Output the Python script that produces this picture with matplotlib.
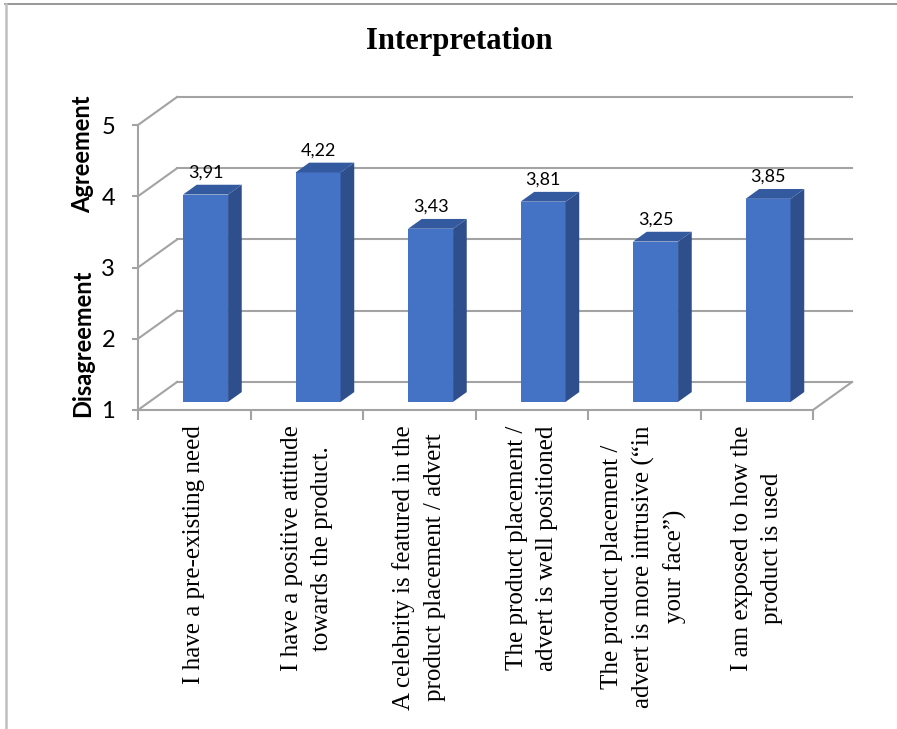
import matplotlib
matplotlib.use("Agg")
import matplotlib.pyplot as plt
from matplotlib.patches import Polygon
from matplotlib.lines import Line2D
import numpy as np

title = "Interpretation"
categories = [
    "I have a pre-existing need",
    "I have a positive attitude\ntowards the product.",
    "A celebrity is featured in the\nproduct placement / advert",
    "The product placement /\nadvert is well positioned",
    "The product placement /\nadvert is more intrusive (\u201cin\nyour face\u201d)",
    "I am exposed to how the\nproduct is used",
]
values = [3.91, 4.22, 3.43, 3.81, 3.25, 3.85]
value_labels = ["3,91", "4,22", "3,43", "3,81", "3,25", "3,85"]
y_ticks = [1, 2, 3, 4, 5]
label_agree = "Agreement"
label_disagree = "Disagreement"

# style / geometry
W, H = 897, 729
FRONT = "#4472C4"
SIDE = "#2E4E8C"
TOP = "#33599F"
GRID = "#A3A3A3"
DX, DY = 0.347, 0.393   # depth offset of back wall in data units
Z0, Z1 = 0.29, 0.64     # bar depth range
BW = 0.4

fig = plt.figure(figsize=(W / 100, H / 100), dpi=100)
fig.patch.set_facecolor("white")
ax = fig.add_axes([138 / W, (H - 410) / H, 675 / W, 285 / H])
ax.set_xlim(-0.5, len(values) - 0.5)
ax.set_ylim(y_ticks[0], y_ticks[-1])
ax.patch.set_visible(False)
for s in ["top", "right"]:
    ax.spines[s].set_visible(False)
for s in ["left", "bottom"]:
    ax.spines[s].set_color(GRID)
    ax.spines[s].set_linewidth(1.5)

xmin, xmax = -0.5, len(values) - 0.5
# walls / gridlines
for y in y_ticks:
    ax.add_line(Line2D([xmin, xmin + DX], [y, y + DY], color=GRID, lw=1.5,
                       clip_on=False, zorder=1))
    ax.add_line(Line2D([xmin + DX, xmax + DX], [y + DY, y + DY], color=GRID,
                       lw=1.5, clip_on=False, zorder=1))
ax.add_line(Line2D([xmax, xmax + DX], [y_ticks[0], y_ticks[0] + DY], color=GRID,
                   lw=1.5, clip_on=False, zorder=1))

# bars
x = np.arange(len(values))
vals = np.array(values)
base = y_ticks[0]
ax.bar(x + Z0 * DX, vals - base, bottom=base + Z0 * DY, width=BW, color=FRONT,
       zorder=3, clip_on=False, linewidth=0)
for xi, v, lab in zip(x, vals, value_labels):
    xl = xi - BW / 2
    xr = xi + BW / 2
    side = [(xr + Z0 * DX, base + Z0 * DY), (xr + Z0 * DX, v + Z0 * DY),
            (xr + Z1 * DX, v + Z1 * DY), (xr + Z1 * DX, base + Z1 * DY)]
    top = [(xl + Z0 * DX, v + Z0 * DY), (xr + Z0 * DX, v + Z0 * DY),
           (xr + Z1 * DX, v + Z1 * DY), (xl + Z1 * DX, v + Z1 * DY)]
    ax.add_patch(Polygon(side, closed=True, facecolor=SIDE, edgecolor="none",
                         zorder=3, clip_on=False))
    ax.add_patch(Polygon(top, closed=True, facecolor=TOP, edgecolor="none",
                         zorder=3, clip_on=False))
    ax.annotate(lab, (xi + Z0 * DX, v + Z1 * DY), xytext=(0, 3),
                textcoords="offset points", ha="center", va="bottom",
                fontsize=13, family="Lato", color="black")

# ticks
ax.set_yticks(y_ticks)
ax.set_yticklabels([str(t) for t in y_ticks], family="Lato", fontsize=17)
ax.tick_params(axis="y", length=4.5, width=1.5, color=GRID, pad=12)
ax.set_xticks(np.arange(-0.5, len(values), 1.0))
ax.set_xticklabels([])
ax.tick_params(axis="x", which="major", length=7, width=1.5, color=GRID)
ax.set_xticks(x, minor=True)
ax.set_xticklabels(categories, minor=True, rotation=90, family="Liberation Serif",
                   fontsize=18, va="top", ha="center", linespacing=1.5,
                   multialignment="center")
ax.tick_params(axis="x", which="minor", length=0, pad=11)

# titles
fig.text(459 / W, 1 - 42 / H, title, ha="center", va="center",
         family="Liberation Serif", fontweight="bold", fontsize=22)
fig.text(83 / W, 1 - 154 / H, label_agree, ha="center", va="center",
         rotation=90, family="Lato", fontweight="bold", fontsize=17)
fig.text(83 / W, 1 - 343 / H, label_disagree, ha="center", va="center",
         rotation=90, family="Lato", fontweight="bold", fontsize=17)

# chart area border
fig.add_artist(Line2D([5 / W, 1], [1 - 4 / H, 1 - 4 / H], transform=fig.transFigure,
                      color="#858585", lw=1.2))
fig.add_artist(Line2D([5.5 / W, 5.5 / W], [0, 1 - 4 / H], transform=fig.transFigure,
                      color="#C0C0C0", lw=1.8))

fig.savefig("out.png", dpi=100, facecolor="white")
